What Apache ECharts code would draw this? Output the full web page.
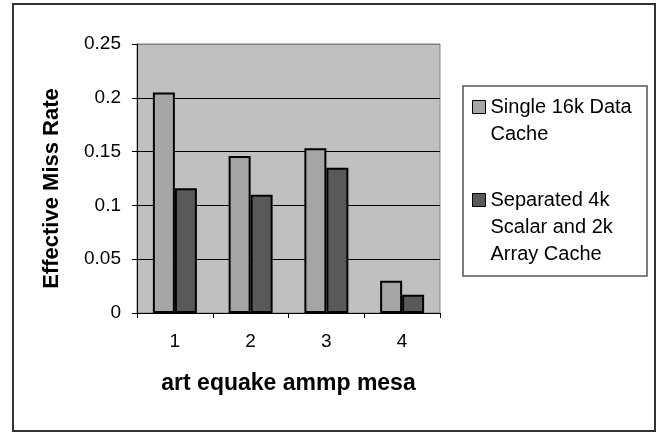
<!DOCTYPE html>
<html>
<head>
<meta charset="utf-8">
<script src="https://cdn.jsdelivr.net/npm/echarts@6/dist/echarts.min.js"></script>
<style>html,body{margin:0;padding:0;background:#fff}#c{width:667px;height:433px}</style>
</head>
<body>
<div id="c"></div>
<script>
var categories = ['1', '2', '3', '4'];
var seriesNames = ['Single 16k Data\nCache', 'Separated 4k\nScalar and 2k\nArray Cache'];
var singleCache = [0.205, 0.146, 0.153, 0.030];
var separatedCache = [0.116, 0.110, 0.135, 0.017];
var yTicks = [0, 0.05, 0.1, 0.15, 0.2, 0.25];
var xTitle = 'art equake ammp mesa';
var yTitle = 'Effective Miss Rate';

var FONT = '"Liberation Sans", Arial, sans-serif';
var LH = 27;
function topIcon(lines) {
  var h = lines * LH;
  var y0 = (LH - 13) / 2;
  return 'path://M0,' + y0 + 'H13V' + (y0 + 13) + 'H0Z M0,0L0.01,0 M0,' + h + 'L0.01,' + h;
}
function legendFor(i, lines, top) {
  return {
    data: [seriesNames[i]], orient: 'vertical', left: 472, top: top, padding: 0,
    itemWidth: 13, itemHeight: lines * LH, icon: topIcon(lines), selectedMode: false,
    itemStyle: {borderColor: '#000', borderWidth: 1},
    textStyle: {fontFamily: FONT, fontSize: 20, lineHeight: LH, color: '#000'}
  };
}
var chart = echarts.init(document.getElementById('c'), null, {renderer: 'canvas'});
chart.setOption({
  animation: false,
  backgroundColor: '#ffffff',
  textStyle: {fontFamily: FONT},
  grid: {left: 137, top: 44, right: 227, bottom: 120, show: true,
         backgroundColor: '#C0C0C0', borderColor: '#808080', borderWidth: 1},
  legend: [legendFor(0, 2, 93), legendFor(1, 3, 186)],
  xAxis: {
    type: 'category', data: categories, boundaryGap: true,
    name: xTitle, nameLocation: 'middle', nameGap: 59,
    nameTextStyle: {fontFamily: FONT, fontSize: 23, fontWeight: 'bold', color: '#000'},
    axisLine: {show: true, lineStyle: {color: '#000', width: 1}},
    axisTick: {show: true, inside: false, length: 5, alignWithLabel: false, lineStyle: {color: '#000'}},
    axisLabel: {fontFamily: FONT, fontSize: 19, color: '#000', margin: 19},
    splitLine: {show: false}
  },
  yAxis: {
    type: 'value', min: 0, max: 0.25, interval: 0.05,
    name: yTitle, nameLocation: 'middle', nameGap: 74, nameRotate: 90,
    nameTextStyle: {fontFamily: FONT, fontSize: 22, fontWeight: 'bold', color: '#000', padding: [0, 20, 0, 0]},
    axisLine: {show: true, lineStyle: {color: '#000', width: 1}},
    axisTick: {show: true, inside: false, length: 5, lineStyle: {color: '#000'}},
    axisLabel: {fontFamily: FONT, fontSize: 19, color: '#000', margin: 16,
      formatter: function (v) { return String(yTicks[Math.round(v / 0.05)]); }},
    splitLine: {show: true, lineStyle: {color: ['#000', '#000', '#000', '#000', '#000', '#808080'], width: 1}}
  },
  series: [
    {name: seriesNames[0], type: 'bar', data: singleCache, barWidth: 22, barGap: '0%',
     itemStyle: {color: '#A6A6A6', borderColor: '#000', borderWidth: 2}},
    {name: seriesNames[1], type: 'bar', data: separatedCache, barWidth: 22, barGap: '0%',
     itemStyle: {color: '#595959', borderColor: '#000', borderWidth: 2}}
  ],
  graphic: [
    {type: 'rect', shape: {x: 13, y: 4, width: 642, height: 427}, silent: true, z: -10,
     style: {fill: null, stroke: '#333', lineWidth: 2}},
    {type: 'rect', shape: {x: 463, y: 86, width: 184, height: 190}, silent: true, z: -10,
     style: {fill: null, stroke: '#555', lineWidth: 1.5}}
  ]
});
</script>
</body>
</html>
